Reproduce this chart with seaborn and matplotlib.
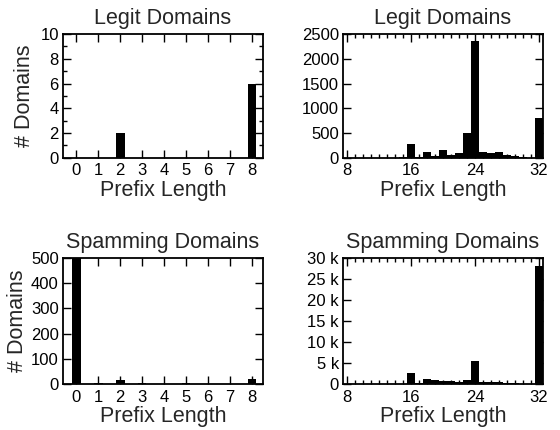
import numpy as np
import pandas as pd
import seaborn as sns
import matplotlib.pyplot as plt
from matplotlib.ticker import MultipleLocator, FuncFormatter

# short prefixes (0-8)
short_len = [0, 1, 2, 3, 4, 5, 6, 7, 8]
legit_short = [0, 0, 2, 0, 0, 0, 0, 0, 6]
spam_short = [500, 2, 15, 3, 0, 3, 0, 0, 18]

# long prefixes (8-32)
long_len = list(range(8, 33))
legit_long = [2, 2, 2, 3, 3, 4, 5, 12, 285, 10, 110, 30, 155, 47, 100, 500, 2350,
              120, 88, 108, 54, 40, 13, 5, 805]
spam_long = [60, 60, 60, 60, 70, 70, 80, 100, 2500, 150, 1290, 1050, 730, 650, 480,
             890, 5400, 560, 560, 480, 320, 160, 80, 50, 28150]

sns.set_theme(style='ticks')
plt.rcParams['font.family'] = ['Liberation Sans', 'DejaVu Sans']

fig = plt.figure(figsize=(5.6, 4.3), dpi=100)
ax1 = fig.add_axes([0.1125, 0.633, 0.357, 0.288])
ax2 = fig.add_axes([0.6125, 0.633, 0.357, 0.288])
ax3 = fig.add_axes([0.1125, 0.107, 0.357, 0.293])
ax4 = fig.add_axes([0.6125, 0.107, 0.357, 0.293])

def style(ax, title, ylab_pad=None):
    ax.set_title(title, fontsize=15.5, pad=7)
    ax.set_xlabel('Prefix Length', fontsize=15.5, labelpad=1)
    if ylab_pad is not None:
        ax.set_ylabel('# Domains', fontsize=15.5, labelpad=ylab_pad)
    ax.tick_params(which='both', direction='in', top=True, right=True,
                   labelsize=12, color='black', labelcolor='black')
    ax.tick_params(axis='x', which='both', pad=4)
    ax.tick_params(axis='y', which='both', pad=3)
    ax.tick_params(which='major', length=6, width=1)
    ax.tick_params(which='minor', length=3, width=1)
    for s in ax.spines.values():
        s.set_linewidth(1.3)
        s.set_color('black')

bar_kw = dict(native_scale=True, color='black', saturation=1,
              edgecolor='black', linewidth=0)

sns.barplot(x=short_len, y=legit_short, width=0.4, ax=ax1, **bar_kw)
ax1.set_xlim(-0.6, 8.5)
ax1.set_ylim(0, 10)
ax1.set_xticks(short_len)
ax1.yaxis.set_major_locator(MultipleLocator(2))
ax1.yaxis.set_minor_locator(MultipleLocator(1))
style(ax1, 'Legit Domains', ylab_pad=4)

sns.barplot(x=long_len, y=legit_long, width=1.0, ax=ax2, **bar_kw)
ax2.set_xlim(7.5, 32.5)
ax2.set_ylim(0, 2500)
ax2.xaxis.set_major_locator(MultipleLocator(8))
ax2.xaxis.set_minor_locator(MultipleLocator(1))
ax2.yaxis.set_major_locator(MultipleLocator(500))
style(ax2, 'Legit Domains')

sns.barplot(x=short_len, y=spam_short, width=0.4, ax=ax3, **bar_kw)
ax3.set_xlim(-0.6, 8.5)
ax3.set_ylim(0, 500)
ax3.set_xticks(short_len)
ax3.yaxis.set_major_locator(MultipleLocator(100))
style(ax3, 'Spamming Domains', ylab_pad=2)

sns.barplot(x=long_len, y=spam_long, width=1.0, ax=ax4, **bar_kw)
ax4.set_xlim(7.5, 32.5)
ax4.set_ylim(0, 30000)
ax4.xaxis.set_major_locator(MultipleLocator(8))
ax4.xaxis.set_minor_locator(MultipleLocator(1))
ax4.yaxis.set_major_locator(MultipleLocator(5000))
ax4.yaxis.set_major_formatter(FuncFormatter(lambda v, p: '0' if v == 0 else '%d k' % (v / 1000)))
style(ax4, 'Spamming Domains')

fig.savefig('out.png', dpi=100)
